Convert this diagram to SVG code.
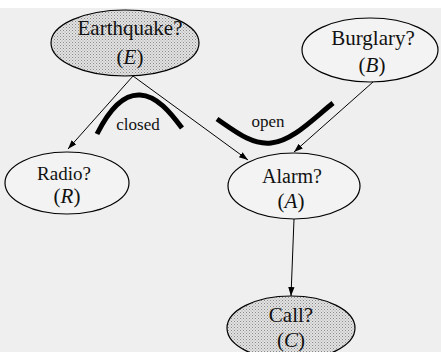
<svg xmlns="http://www.w3.org/2000/svg" width="441" height="352" viewBox="0 0 441 352">
<defs>
<pattern id="stip" width="3" height="3" patternUnits="userSpaceOnUse">
<rect width="3" height="3" fill="#e2e2e2"/>
<rect x="0" y="0" width="1" height="1" fill="#8a8a8a"/>
<rect x="1.5" y="1.5" width="1" height="1" fill="#a0a0a0"/>
</pattern>
<marker id="arr" viewBox="0 0 10 10" refX="10" refY="5" markerWidth="9" markerHeight="9" markerUnits="userSpaceOnUse" orient="auto">
<path d="M0,1.5 L10,5 L0,8.5 Z" fill="#000"/>
</marker>
</defs>
<style>
.node{stroke:#000;stroke-width:1.2}
.plain{fill:#f3f3f3}
.shade{fill:url(#stip)}
.lbl{font-family:"Liberation Serif",serif;font-size:21px;fill:#111;text-anchor:middle}
.it{font-style:italic}
.edge{stroke:#000;stroke-width:1;fill:none;marker-end:url(#arr)}
.thick{stroke:#000;stroke-width:5;fill:none;stroke-linecap:butt}
.tag{font-family:"Liberation Serif",serif;font-size:17px;fill:#111;text-anchor:middle}
</style>
<rect width="441" height="352" fill="#ffffff"/>
<rect x="0" y="8" width="441" height="344" fill="#efefef"/>
<g id="connectors">
<line class="edge" x1="133" y1="76" x2="68" y2="149"/>
<line class="edge" x1="133" y1="76" x2="248" y2="160"/>
<line class="edge" x1="373" y1="82" x2="294" y2="152"/>
<line class="edge" x1="294" y1="219" x2="291" y2="296"/>
</g>
<g id="closed-path">
<path class="thick" d="M97,134 C110,108 124,94 140,95 C157,96 170,112 182,128"/>
<text class="tag" x="138" y="130">closed</text>
</g>
<g id="open-path">
<path class="thick" d="M217,119 C236,132 252,145 271,143 C292,141 312,120 333,103"/>
<text class="tag" x="268" y="127">open</text>
</g>
<g id="earthquake">
<ellipse class="node shade" cx="125" cy="43" rx="74" ry="33"/>
<text class="lbl" x="130" y="35">Earthquake?</text>
<text class="lbl" x="130" y="64">(<tspan class="it">E</tspan>)</text>
</g>
<g id="burglary">
<ellipse class="node plain" cx="370" cy="50" rx="68" ry="32"/>
<text class="lbl" x="373" y="45">Burglary?</text>
<text class="lbl" x="372" y="72">(<tspan class="it">B</tspan>)</text>
</g>
<g id="radio">
<ellipse class="node plain" cx="67" cy="183" rx="62" ry="31"/>
<text class="lbl" x="64" y="180" style="font-size:19px">Radio?</text>
<text class="lbl" x="67" y="203">(<tspan class="it">R</tspan>)</text>
</g>
<g id="alarm">
<ellipse class="node plain" cx="294" cy="186" rx="66" ry="33"/>
<text class="lbl" x="292" y="183" style="font-size:20px">Alarm?</text>
<text class="lbl" x="291" y="208">(<tspan class="it">A</tspan>)</text>
</g>
<g id="call">
<ellipse class="node shade" cx="291" cy="328" rx="64" ry="32"/>
<text class="lbl" x="291" y="322">Call?</text>
<text class="lbl" x="291" y="347">(<tspan class="it">C</tspan>)</text>
</g>
</svg>
